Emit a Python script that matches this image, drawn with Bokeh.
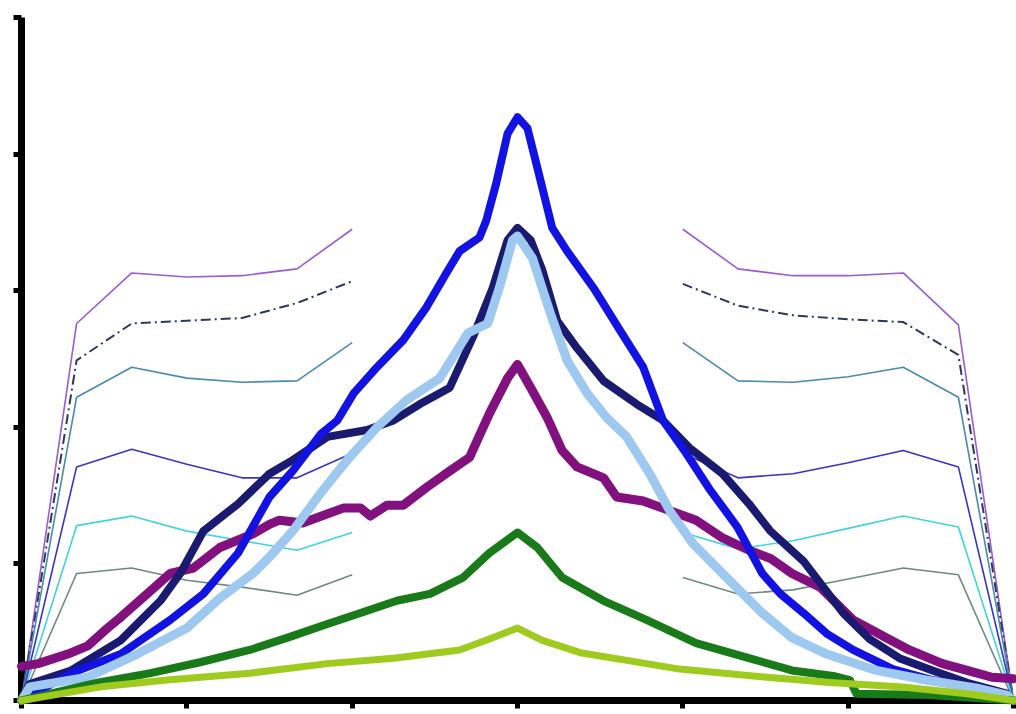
from bokeh.plotting import figure
from bokeh.models import Range1d, FixedTicker
from bokeh.embed import file_html
from bokeh.resources import INLINE

# ---- thin reference curves (left and right segments) ----
thin_x_left = [0, 1/3, 2/3, 1.0, 4/3, 5/3, 2.0]
thin_x_right = [4.0, 13/3, 14/3, 5.0, 16/3, 17/3, 6.0]

thin_violet_l = [0, 2.76, 3.13, 3.10, 3.11, 3.16, 3.45]
thin_violet_r = [3.45, 3.16, 3.11, 3.11, 3.13, 2.75, 0]
thin_dashdot_l = [0, 2.49, 2.76, 2.78, 2.80, 2.91, 3.07]
thin_dashdot_r = [3.05, 2.89, 2.82, 2.79, 2.77, 2.53, 0]
thin_teal_l = [0, 2.22, 2.44, 2.36, 2.33, 2.34, 2.62]
thin_teal_r = [2.62, 2.34, 2.33, 2.37, 2.44, 2.22, 0]
thin_indigo_l = [0, 1.71, 1.84, 1.73, 1.63, 1.63, 1.81]
thin_indigo_r = [1.81, 1.63, 1.66, 1.74, 1.83, 1.71, 0]
thin_cyan_l = [0, 1.28, 1.35, 1.24, 1.17, 1.10, 1.23]
thin_cyan_r = [1.23, 1.11, 1.17, 1.26, 1.35, 1.27, 0]
thin_gray_l = [0, 0.93, 0.97, 0.88, 0.83, 0.77, 0.92]
thin_gray_r = [0.90, 0.78, 0.81, 0.89, 0.97, 0.92, 0]

# ---- thick measured curves ----
blue_x = [0, 0.30, 0.60, 0.90, 1.10, 1.31, 1.50, 1.64, 1.81, 1.91, 2.01, 2.15, 2.31, 2.45, 2.57, 2.65,
          2.77, 2.81, 2.87, 2.94, 3.00, 3.06, 3.12, 3.21, 3.30, 3.46, 3.62, 3.76, 3.88, 4.02, 4.16, 4.33,
          4.48, 4.59, 4.73, 4.87, 5.03, 5.27, 5.51, 5.75, 5.96, 6.0]
blue_y = [0, 0.20, 0.34, 0.59, 0.78, 1.08, 1.49, 1.68, 1.95, 2.05, 2.25, 2.44, 2.64, 2.88, 3.13, 3.29,
          3.39, 3.51, 3.78, 4.15, 4.27, 4.19, 3.90, 3.46, 3.29, 3.02, 2.71, 2.44, 2.05, 1.81, 1.55, 1.27,
          0.93, 0.78, 0.64, 0.49, 0.37, 0.23, 0.15, 0.09, 0.04, 0.0]

navy_x = [0, 0.05, 0.30, 0.60, 0.84, 0.96, 1.10, 1.31, 1.50, 1.64, 1.85, 2.09, 2.25, 2.41, 2.59, 2.73,
          2.85, 2.94, 3.00, 3.08, 3.15, 3.24, 3.36, 3.52, 3.72, 3.88, 4.04, 4.24, 4.40, 4.53, 4.73, 4.85,
          4.97, 5.13, 5.31, 5.51, 5.72, 5.96, 6.0]
navy_y = [0, 0.12, 0.22, 0.44, 0.73, 0.93, 1.24, 1.44, 1.66, 1.76, 1.93, 1.98, 2.05, 2.17, 2.29, 2.66,
          3.02, 3.37, 3.46, 3.37, 3.15, 2.78, 2.58, 2.34, 2.17, 2.05, 1.85, 1.66, 1.44, 1.24, 1.02, 0.83,
          0.64, 0.45, 0.31, 0.22, 0.13, 0.05, 0.0]

light_x = [0, 0.05, 0.40, 0.70, 1.00, 1.20, 1.40, 1.50, 1.64, 1.81, 1.97, 2.15, 2.33, 2.53, 2.70, 2.82,
           2.89, 2.97, 3.00, 3.09, 3.20, 3.30, 3.42, 3.54, 3.66, 3.80, 3.92, 4.06, 4.24, 4.48, 4.66, 4.87,
           5.17, 5.47, 5.78, 5.96, 6.0]
light_y = [0, 0.10, 0.17, 0.34, 0.53, 0.75, 0.93, 1.05, 1.24, 1.52, 1.76, 2.00, 2.20, 2.36, 2.69, 2.76,
           3.02, 3.37, 3.40, 3.24, 2.83, 2.49, 2.25, 2.07, 1.93, 1.66, 1.39, 1.15, 0.93, 0.64, 0.46, 0.34,
           0.22, 0.15, 0.09, 0.04, 0.0]

purple_x = [0, 0.10, 0.28, 0.40, 0.52, 0.60, 0.76, 0.90, 1.04, 1.20, 1.40, 1.50, 1.56, 1.70, 1.95, 2.05,
            2.11, 2.21, 2.31, 2.45, 2.59, 2.71, 2.83, 2.94, 3.00, 3.08, 3.18, 3.27, 3.36, 3.52, 3.60, 3.76,
            3.92, 4.08, 4.24, 4.40, 4.53, 4.66, 4.83, 5.03, 5.23, 5.37, 5.57, 5.72, 5.87, 6.0]
purple_y = [0.25, 0.27, 0.34, 0.40, 0.53, 0.61, 0.78, 0.93, 0.97, 1.12, 1.22, 1.29, 1.32, 1.30, 1.41, 1.41,
            1.35, 1.43, 1.43, 1.56, 1.68, 1.78, 2.10, 2.36, 2.46, 2.29, 2.07, 1.83, 1.71, 1.63, 1.49, 1.46,
            1.39, 1.32, 1.19, 1.10, 1.04, 0.93, 0.83, 0.59, 0.46, 0.37, 0.27, 0.22, 0.17, 0.16]

green_x = [0, 0.46, 0.78, 1.08, 1.38, 1.61, 1.85, 2.05, 2.27, 2.47, 2.67, 2.83, 3.00, 3.12, 3.27, 3.52,
           3.78, 4.08, 4.40, 4.66, 4.91, 5.01, 5.05, 5.49, 6.0]
green_y = [0, 0.13, 0.20, 0.28, 0.37, 0.46, 0.56, 0.64, 0.73, 0.78, 0.90, 1.08, 1.23, 1.12, 0.90, 0.73,
           0.59, 0.42, 0.31, 0.22, 0.18, 0.15, 0.05, 0.04, 0.0]

lime_x = [0, 0.48, 0.88, 1.38, 1.85, 2.25, 2.65, 2.85, 3.00, 3.15, 3.38, 3.68, 3.98, 4.51, 4.91, 5.31,
          5.72, 6.0]
lime_y = [0, 0.10, 0.15, 0.20, 0.27, 0.31, 0.37, 0.46, 0.53, 0.44, 0.35, 0.29, 0.23, 0.17, 0.13, 0.10,
          0.05, 0.0]

x_ticks = [0, 1, 2, 3, 4, 5, 6]
y_ticks = [0, 1, 2, 3, 4, 5]

p = figure(width=1016, height=714, output_backend="svg", toolbar_location=None,
           x_range=Range1d(0, 6), y_range=Range1d(0, 5),
           min_border_left=21, min_border_right=3, min_border_top=17, min_border_bottom=14)
p.background_fill_color = "white"
p.border_fill_color = "white"
p.outline_line_color = None
p.grid.visible = False

for ax, ticks in ((p.xaxis, x_ticks), (p.yaxis, y_ticks)):
    ax.ticker = FixedTicker(ticks=ticks)
    ax.axis_line_width = 7
    ax.axis_line_color = "black"
    ax.major_tick_line_width = 5
    ax.major_tick_line_color = "black"
    ax.major_tick_in = 0
    ax.major_tick_out = 8
    ax.minor_tick_line_color = None
    ax.major_label_overrides = {t: "" for t in ticks}
    ax.major_label_text_font_size = "1px"
    ax.major_label_standoff = 0

thin = [
    (thin_violet_l, thin_violet_r, "#9A5CD0", None),
    (thin_dashdot_l, thin_dashdot_r, "#2C3A58", "10 4 2 4"),
    (thin_teal_l, thin_teal_r, "#4A8AAE", None),
    (thin_indigo_l, thin_indigo_r, "#3A34C4", None),
    (thin_cyan_l, thin_cyan_r, "#40D4DC", None),
    (thin_gray_l, thin_gray_r, "#6E8A80", None),
]
for yl, yr, col, dash in thin:
    for xs, ys in ((thin_x_left, yl), (thin_x_right, yr)):
        kw = dict(line_color=col, line_width=1.6)
        if dash:
            kw["line_dash"] = dash
            kw["line_width"] = 2
        r = p.line(xs, ys, **kw)
        r.level = "overlay"

thick = [
    (purple_x, purple_y, "#82107E", 9),
    (navy_x, navy_y, "#1A1A70", 8),
    (blue_x, blue_y, "#1212E2", 8),
    (light_x, light_y, "#9DC8F0", 9),
    (green_x, green_y, "#187A18", 8),
    (lime_x, lime_y, "#9ECB1E", 7),
]
for xs, ys, col, w in thick:
    r = p.line(xs, ys, line_color=col, line_width=w, line_join="round", line_cap="round")
    r.level = "overlay"

open("out.html", "w").write(file_html(p, INLINE))
